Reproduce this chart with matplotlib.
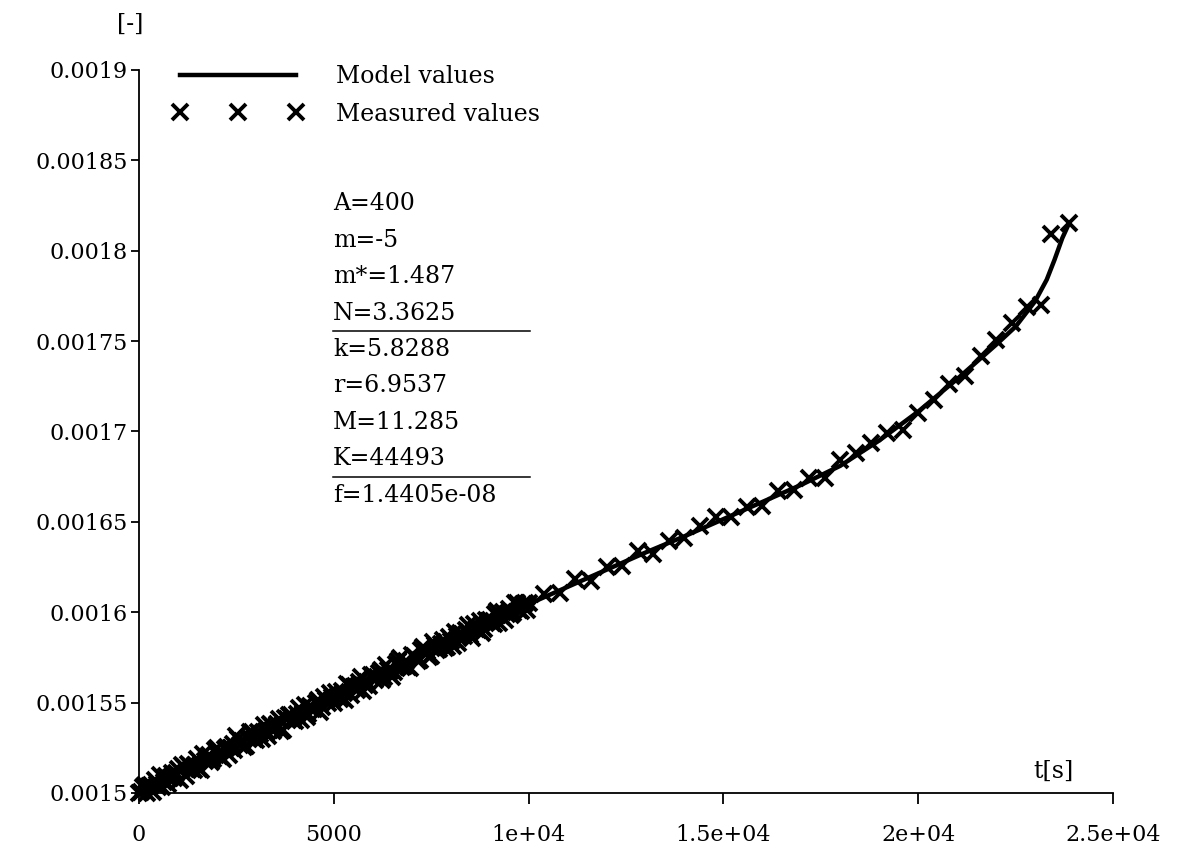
import matplotlib
matplotlib.use("Agg")
import matplotlib.pyplot as plt
from matplotlib.lines import Line2D
from matplotlib.legend_handler import HandlerLine2D
from matplotlib.ticker import FixedLocator, FixedFormatter

plt.rcParams["font.family"] = "DejaVu Serif"

# model curve (time in s, strain [-])
model_t = [0, 1000, 2000, 3000, 4000, 5000, 6000, 7000, 8000, 9000,
           10000, 11000, 12000, 13000, 14000, 15000, 16000, 17000, 18000, 19000,
           20000, 21000, 22000, 22500, 23000, 23300, 23500, 23700, 23870]
model_v = [0.0015000, 0.0015110, 0.0015220, 0.0015325, 0.0015430, 0.0015535, 0.0015640, 0.0015740, 0.0015845, 0.0015945,
           0.0016045, 0.0016140, 0.0016235, 0.0016330, 0.0016420, 0.0016515, 0.0016610, 0.0016705, 0.0016810, 0.0016950,
           0.0017110, 0.0017290, 0.0017480, 0.0017580, 0.0017720, 0.0017840, 0.0017950, 0.0018070, 0.0018150]

# measured points, dense part (every 100 s)
meas_t1 = [0, 100, 200, 300, 400, 500, 600, 700, 800, 900,
           1000, 1100, 1200, 1300, 1400, 1500, 1600, 1700, 1800, 1900,
           2000, 2100, 2200, 2300, 2400, 2500, 2600, 2700, 2800, 2900,
           3000, 3100, 3200, 3300, 3400, 3500, 3600, 3700, 3800, 3900,
           4000, 4100, 4200, 4300, 4400, 4500, 4600, 4700, 4800, 4900,
           5000, 5100, 5200, 5300, 5400, 5500, 5600, 5700, 5800, 5900,
           6000, 6100, 6200, 6300, 6400, 6500, 6600, 6700, 6800, 6900,
           7000, 7100, 7200, 7300, 7400, 7500, 7600, 7700, 7800, 7900,
           8000, 8100, 8200, 8300, 8400, 8500, 8600, 8700, 8800, 8900,
           9000, 9100, 9200, 9300, 9400, 9500, 9600, 9700, 9800, 9900,
           10000]
meas_v1 = [0.0015000, 0.0015031, 0.0015001, 0.0015042, 0.0015072, 0.0015033, 0.0015033, 0.0015094, 0.0015084, 0.0015085,
           0.0015135, 0.0015156, 0.0015096, 0.0015147, 0.0015127, 0.0015188, 0.0015128, 0.0015179, 0.0015209, 0.0015190,
           0.0015250, 0.0015201, 0.0015241, 0.0015212, 0.0015272, 0.0015313, 0.0015263, 0.0015254, 0.0015304, 0.0015335,
           0.0015295, 0.0015326, 0.0015376, 0.0015317, 0.0015377, 0.0015358, 0.0015408, 0.0015349, 0.0015409, 0.0015430,
           0.0015400, 0.0015471, 0.0015441, 0.0015422, 0.0015482, 0.0015463, 0.0015513, 0.0015474, 0.0015514, 0.0015555,
           0.0015495, 0.0015536, 0.0015566, 0.0015517, 0.0015597, 0.0015588, 0.0015568, 0.0015639, 0.0015599, 0.0015590,
           0.0015650, 0.0015641, 0.0015681, 0.0015642, 0.0015682, 0.0015643, 0.0015713, 0.0015744, 0.0015704, 0.0015695,
           0.0015765, 0.0015746, 0.0015736, 0.0015807, 0.0015787, 0.0015758, 0.0015818, 0.0015799, 0.0015849, 0.0015810,
           0.0015840, 0.0015891, 0.0015831, 0.0015882, 0.0015902, 0.0015873, 0.0015933, 0.0015904, 0.0015884, 0.0015955,
           0.0015955, 0.0015936, 0.0016006, 0.0015977, 0.0015957, 0.0016018, 0.0015998, 0.0016049, 0.0016009, 0.0016050,
           0.0016050]

# measured points, dense part (in between)
meas_t2 = [50, 150, 250, 350, 450, 550, 650, 750, 850, 950,
           1050, 1150, 1250, 1350, 1450, 1550, 1650, 1750, 1850, 1950,
           2050, 2150, 2250, 2350, 2450, 2550, 2650, 2750, 2850, 2950,
           3050, 3150, 3250, 3350, 3450, 3550, 3650, 3750, 3850, 3950,
           4050, 4150, 4250, 4350, 4450, 4550, 4650, 4750, 4850, 4950,
           5050, 5150, 5250, 5350, 5450, 5550, 5650, 5750, 5850, 5950,
           6050, 6150, 6250, 6350, 6450, 6550, 6650, 6750, 6850, 6950,
           7050, 7150, 7250, 7350, 7450, 7550, 7650, 7750, 7850, 7950,
           8050, 8150, 8250, 8350, 8450, 8550, 8650, 8750, 8850, 8950,
           9050, 9150, 9250, 9350, 9450, 9550, 9650, 9750, 9850, 9950]
meas_v2 = [0.0015005, 0.0015046, 0.0015036, 0.0015007, 0.0015047, 0.0015098, 0.0015058, 0.0015049, 0.0015109, 0.0015110,
           0.0015070, 0.0015141, 0.0015161, 0.0015132, 0.0015152, 0.0015133, 0.0015213, 0.0015194, 0.0015174, 0.0015235,
           0.0015205, 0.0015186, 0.0015256, 0.0015247, 0.0015237, 0.0015298, 0.0015288, 0.0015259, 0.0015339, 0.0015300,
           0.0015340, 0.0015301, 0.0015341, 0.0015382, 0.0015342, 0.0015383, 0.0015343, 0.0015414, 0.0015434, 0.0015405,
           0.0015435, 0.0015406, 0.0015486, 0.0015437, 0.0015467, 0.0015498, 0.0015448, 0.0015529, 0.0015499, 0.0015530,
           0.0015560, 0.0015521, 0.0015551, 0.0015602, 0.0015542, 0.0015593, 0.0015613, 0.0015564, 0.0015614, 0.0015655,
           0.0015625, 0.0015666, 0.0015626, 0.0015707, 0.0015677, 0.0015668, 0.0015728, 0.0015699, 0.0015729, 0.0015690,
           0.0015760, 0.0015731, 0.0015791, 0.0015772, 0.0015752, 0.0015833, 0.0015793, 0.0015824, 0.0015804, 0.0015865,
           0.0015815, 0.0015866, 0.0015886, 0.0015867, 0.0015927, 0.0015858, 0.0015908, 0.0015949, 0.0015909, 0.0015950,
           0.0015940, 0.0015991, 0.0015941, 0.0016002, 0.0015992, 0.0015983, 0.0016053, 0.0016014, 0.0016044, 0.0016015]

# measured points, sparse part
meas_t3 = [10400, 10800, 11200, 11600, 12000, 12400, 12800, 13200, 13600, 14000,
           14400, 14800, 15200, 15600, 16000, 16400, 16800, 17200, 17600, 18000,
           18400, 18800, 19200, 19600, 20000, 20400, 20800, 21200, 21600, 22000,
           22400, 22800, 23150, 23400, 23870]
meas_v3 = [0.0016098, 0.0016106, 0.0016184, 0.0016172, 0.0016250, 0.0016258, 0.0016336, 0.0016324, 0.0016392, 0.0016410,
           0.0016478, 0.0016526, 0.0016524, 0.0016582, 0.0016590, 0.0016668, 0.0016676, 0.0016744, 0.0016742, 0.0016840,
           0.0016880, 0.0016935, 0.0016990, 0.0017010, 0.0017100, 0.0017175, 0.0017265, 0.0017305, 0.0017415, 0.0017505,
           0.0017600, 0.0017690, 0.0017700, 0.0018095, 0.0018155]

x_ticks = [0, 5000, 10000, 15000, 20000, 25000]
x_labels = ["0", "5000", "1e+04", "1.5e+04", "2e+04", "2.5e+04"]
y_ticks = [0.0015, 0.00155, 0.0016, 0.00165, 0.0017, 0.00175, 0.0018, 0.00185, 0.0019]
y_labels = ["0.0015", "0.00155", "0.0016", "0.00165", "0.0017", "0.00175", "0.0018", "0.00185", "0.0019"]

params = [["A=400", "m=-5", "m*=1.487", "N=3.3625"],
          ["k=5.8288", "r=6.9537", "M=11.285", "K=44493"],
          ["f=1.4405e-08"]]

fs_tick = 16
fs = 17

fig = plt.figure(figsize=(11.8, 8.47), dpi=100)
ax = fig.add_axes([0.1178, 0.0638, 0.8254, 0.8536])

model_line, = ax.plot(model_t, model_v, "-", color="black", lw=3.2, label="Model values")
meas_line, = ax.plot(meas_t1 + meas_t2 + meas_t3, meas_v1 + meas_v2 + meas_v3,
                     linestyle="none", marker="x", color="black", ms=12, mew=2.8,
                     clip_on=False, label="Measured values")

ax.set_xlim(0, 25000)
ax.set_ylim(0.0015, 0.0019)
ax.xaxis.set_major_locator(FixedLocator(x_ticks))
ax.xaxis.set_major_formatter(FixedFormatter(x_labels))
ax.yaxis.set_major_locator(FixedLocator(y_ticks))
ax.yaxis.set_major_formatter(FixedFormatter(y_labels))

for s in ["top", "right"]:
    ax.spines[s].set_visible(False)
for s in ["left", "bottom"]:
    ax.spines[s].set_linewidth(1.3)
ax.tick_params(axis="x", direction="out", length=8, width=1.3, labelsize=fs_tick, pad=14)
ax.tick_params(axis="y", direction="out", length=6, width=1.3, labelsize=fs_tick, pad=2)

# axis unit labels
fig.text(130 / 1180, 1 - 24 / 847, "[-]", fontsize=fs, ha="center", va="center")
fig.text(1053 / 1180, 1 - 771 / 847, "t[s]", fontsize=fs, ha="center", va="center")

# legend above the plot area
ax.legend(handles=[model_line, meas_line], loc="upper left",
          bbox_to_anchor=(180 / 1180, 1 - 65 / 847),
          bbox_transform=fig.transFigure, frameon=False, fontsize=fs,
          numpoints=3, handlelength=4.9, handletextpad=1.7,
          labelspacing=0.62, borderpad=0, borderaxespad=0,
          handler_map={Line2D: HandlerLine2D(marker_pad=0)})

# parameter block
x0 = (333 - 139) / 974
x1 = (530 - 139) / 974
row = 0
for gi, group in enumerate(params):
    for name in group:
        y = (793 - (204 + 36.4 * row)) / 723
        ax.text(x0, y, name, transform=ax.transAxes, fontsize=fs, ha="left", va="center")
        row += 1
    if gi < len(params) - 1:
        yl = (793 - (204 + 36.4 * (row - 1) + 18)) / 723
        ax.plot([x0, x1], [yl, yl], color="black", lw=1.1, transform=ax.transAxes, clip_on=False)

fig.savefig("out.png", dpi=100)
